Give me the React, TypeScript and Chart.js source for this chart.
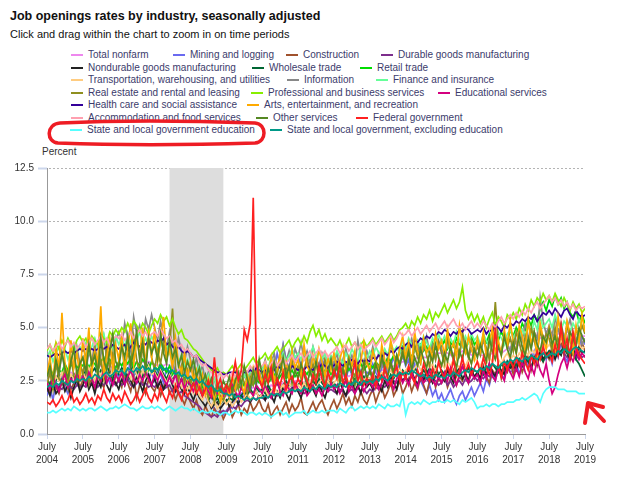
import React, { useEffect, useRef } from 'react';
import { Chart, registerables } from 'chart.js';

Chart.register(...registerables);

// Monthly job openings rates, July 2004 – July 2019 (index 0 = July 2004)
const TICK_MONTH = 'July';
const TICK_YEARS = ['2004', '2005', '2006', '2007', '2008', '2009', '2010', '2011', '2012', '2013', '2014', '2015', '2016', '2017', '2018', '2019'];
const RECESSION_START = 41; // Dec 2007
const RECESSION_END = 59; // Jun 2009

const totalNonfarm = [
  2.6, 2.7, 2.6, 2.7, 2.8, 2.7, 2.8, 2.8, 2.9, 2.8, 2.9, 2.9,
  3.0, 2.9, 3.0, 3.1, 3.0, 3.1, 3.2, 3.1, 3.2, 3.2, 3.1, 3.2,
  3.2, 3.3, 3.2, 3.3, 3.2, 3.3, 3.4, 3.3, 3.4, 3.3, 3.4, 3.3,
  3.3, 3.2, 3.3, 3.2, 3.3, 3.2, 3.1, 3.0, 3.0, 2.9, 2.8, 2.8,
  2.7, 2.6, 2.5, 2.4, 2.3, 2.2, 2.1, 2.0, 1.9, 1.9, 1.8, 1.8,
  1.8, 1.8, 1.9, 1.8, 1.9, 1.9, 2.0, 2.0, 2.1, 2.2, 2.1, 2.1,
  2.1, 2.2, 2.1, 2.3, 2.2, 2.3, 2.3, 2.4, 2.4, 2.5, 2.4, 2.5,
  2.5, 2.5, 2.4, 2.6, 2.5, 2.6, 2.7, 2.6, 2.7, 2.7, 2.6, 2.7,
  2.7, 2.8, 2.7, 2.7, 2.8, 2.7, 2.8, 2.8, 2.9, 2.8, 2.9, 2.9,
  2.9, 2.9, 3.0, 2.9, 3.0, 3.0, 3.1, 3.1, 3.2, 3.3, 3.3, 3.4,
  3.4, 3.5, 3.4, 3.5, 3.6, 3.5, 3.6, 3.6, 3.7, 3.7, 3.8, 3.8,
  3.8, 3.9, 3.8, 3.7, 3.8, 3.7, 3.8, 3.9, 3.8, 3.8, 3.7, 3.8,
  3.8, 3.7, 3.7, 3.8, 3.7, 3.8, 3.8, 3.9, 3.8, 3.9, 4.0, 4.1,
  4.0, 4.1, 4.2, 4.1, 4.2, 4.2, 4.3, 4.4, 4.4, 4.5, 4.6, 4.6,
  4.6, 4.7, 4.6, 4.7, 4.8, 4.7, 4.8, 4.7, 4.7, 4.7, 4.6, 4.6,
  4.6,
];

const miningLogging = [
  1.8, 2.2, 1.6, 2.4, 2.0, 2.6, 2.2, 1.9, 2.5, 2.8, 2.3, 2.6,
  2.9, 2.4, 3.1, 2.7, 2.5, 3.0, 2.6, 3.3, 2.8, 2.4, 3.2, 2.9,
  2.7, 3.1, 2.5, 2.9, 3.4, 2.7, 3.0, 2.3, 2.8, 3.3, 2.6, 2.9,
  2.5, 3.0, 2.8, 2.4, 3.1, 2.7, 3.3, 2.9, 2.6, 3.2, 3.0, 2.7,
  3.1, 2.8, 2.5, 2.3, 2.0, 1.8, 1.5, 1.3, 1.2, 1.0, 1.1, 0.9,
  1.1, 1.3, 1.2, 1.6, 1.5, 1.9, 1.7, 2.2, 2.0, 2.6, 2.3, 2.9,
  2.5, 3.1, 2.8, 3.6, 3.0, 3.8, 3.2, 4.2, 3.5, 3.0, 4.0, 3.4,
  3.7, 3.2, 3.9, 3.4, 3.1, 3.6, 3.3, 3.0, 3.5, 3.2, 2.8, 3.4,
  3.1, 2.7, 3.3, 2.9, 2.6, 3.1, 2.8, 3.2, 2.7, 3.0, 2.5, 2.9,
  2.8, 3.3, 2.9, 2.6, 3.1, 3.4, 2.9, 3.2, 3.6, 3.0, 3.3, 3.7,
  3.2, 3.5, 2.9, 3.3, 2.8, 2.5, 2.2, 1.9, 2.3, 1.8, 2.1, 1.6,
  1.9, 1.5, 1.8, 2.1, 1.7, 1.4, 1.8, 2.0, 1.6, 1.9, 2.2, 1.8,
  2.1, 2.4, 2.0, 2.6, 2.3, 2.9, 2.5, 3.1, 2.8, 2.6, 3.2, 2.9,
  3.0, 3.4, 2.8, 3.2, 3.6, 3.1, 3.5, 3.9, 3.3, 3.7, 4.1, 3.5,
  3.8, 3.3, 4.0, 3.6, 4.3, 3.7, 3.4, 3.9, 4.4, 3.6, 4.1, 4.6,
  4.2,
];

const construction = [
  2.4, 2.0, 2.6, 2.2, 1.9, 2.5, 2.3, 2.8, 2.1, 2.4, 2.7, 2.2,
  2.5, 2.9, 2.3, 2.6, 2.1, 2.8, 2.4, 2.2, 2.7, 3.0, 2.5, 2.3,
  2.6, 2.2, 2.9, 2.4, 2.0, 2.7, 1.7, 2.3, 2.5, 1.9, 2.6, 2.2,
  2.0, 2.4, 1.8, 2.2, 2.5, 1.9, 2.1, 1.6, 2.0, 1.7, 1.4, 1.8,
  1.5, 1.2, 1.6, 1.1, 0.9, 1.3, 1.0, 0.8, 1.2, 0.9, 1.1, 0.7,
  1.0, 1.3, 0.8, 1.1, 1.4, 0.9, 1.2, 1.0, 1.5, 1.1, 1.3, 1.6,
  1.2, 1.0, 1.4, 0.8, 1.1, 1.3, 0.9, 1.2, 1.5, 1.0, 1.4, 1.1,
  1.3, 1.7, 1.0, 0.9, 1.2, 1.5, 1.1, 1.4, 1.6, 1.2, 0.9, 1.3,
  1.6, 1.2, 1.5, 1.9, 1.4, 1.7, 1.3, 1.8, 1.5, 2.0, 1.6, 1.4,
  1.8, 2.1, 1.5, 1.9, 2.2, 1.7, 2.0, 2.4, 1.8, 2.1, 2.5, 1.9,
  2.2, 2.6, 2.0, 2.4, 2.1, 2.7, 2.3, 1.9, 2.5, 2.8, 2.2, 2.6,
  2.4, 2.8, 2.2, 2.6, 3.0, 2.3, 2.7, 2.5, 2.9, 2.4, 3.1, 2.6,
  2.9, 2.5, 3.2, 2.7, 2.4, 3.0, 2.8, 3.3, 2.6, 3.1, 2.9, 3.4,
  2.8, 3.2, 3.5, 2.9, 3.3, 3.7, 3.0, 3.6, 3.2, 3.9, 3.4, 3.8,
  3.5, 4.1, 3.6, 3.9, 4.4, 3.7, 4.2, 3.8, 4.6, 4.0, 3.7, 4.3,
  3.9,
];

const durableGoods = [
  2.0, 2.2, 2.1, 2.3, 2.2, 2.1, 2.3, 2.4, 2.2, 2.1, 2.3, 2.2,
  2.3, 2.2, 2.4, 2.3, 2.5, 2.2, 2.4, 2.3, 2.5, 2.6, 2.4, 2.3,
  2.5, 2.3, 2.4, 2.6, 2.3, 2.2, 2.4, 2.5, 2.3, 2.4, 2.2, 2.3,
  2.2, 2.4, 2.3, 2.1, 2.2, 2.3, 2.0, 2.1, 1.9, 2.0, 1.8, 1.7,
  1.6, 1.5, 1.4, 1.3, 1.1, 1.0, 0.9, 0.8, 0.9, 0.8, 1.0, 1.1,
  1.0, 1.2, 1.3, 1.2, 1.4, 1.3, 1.5, 1.6, 1.5, 1.7, 1.6, 1.8,
  1.7, 1.6, 1.8, 1.7, 1.9, 1.8, 2.0, 1.9, 2.1, 2.0, 2.2, 2.1,
  2.0, 2.1, 1.9, 2.0, 2.2, 2.1, 2.0, 2.2, 2.1, 2.3, 2.0, 2.1,
  2.0, 1.9, 2.1, 2.0, 1.8, 2.0, 2.1, 1.9, 2.2, 2.0, 2.1, 1.9,
  2.1, 2.0, 2.2, 2.1, 2.3, 2.2, 2.4, 2.3, 2.5, 2.4, 2.6, 2.5,
  2.6, 2.5, 2.7, 2.6, 2.8, 2.5, 2.7, 2.6, 2.4, 2.6, 2.5, 2.3,
  2.4, 2.6, 2.3, 2.5, 2.2, 2.4, 2.5, 2.3, 2.6, 2.4, 2.5, 2.7,
  2.5, 2.7, 2.6, 2.8, 2.7, 2.9, 2.8, 3.0, 2.9, 3.1, 3.0, 3.2,
  3.1, 3.3, 3.2, 3.4, 3.3, 3.5, 3.6, 3.4, 3.7, 3.6, 3.8, 3.7,
  3.9, 3.8, 4.0, 3.7, 3.9, 3.8, 3.6, 3.9, 3.7, 3.5, 3.8, 3.6,
  3.7,
];

const nondurableGoods = [
  2.2, 1.8, 2.4, 1.9, 2.1, 2.5, 2.0, 2.3, 1.7, 2.2, 2.6, 2.0,
  2.3, 2.7, 2.1, 2.4, 1.9, 2.5, 2.2, 2.8, 2.3, 2.0, 2.6, 2.4,
  2.1, 2.6, 2.3, 2.9, 2.5, 2.2, 2.7, 2.4, 2.0, 2.5, 2.8, 2.3,
  2.6, 2.2, 2.5, 2.1, 2.4, 2.7, 2.3, 2.0, 2.4, 2.1, 1.9, 2.2,
  1.9, 1.6, 2.0, 1.7, 1.5, 1.3, 1.6, 1.2, 1.4, 1.5, 1.2, 1.4,
  1.6, 1.3, 1.5, 1.7, 1.4, 1.8, 1.6, 1.9, 1.5, 1.8, 2.0, 1.7,
  1.9, 1.6, 2.1, 1.8, 1.5, 2.0, 1.7, 2.2, 1.9, 1.6, 2.1, 2.3,
  2.0, 1.7, 2.2, 1.9, 2.4, 2.1, 1.8, 2.3, 2.0, 1.7, 2.2, 2.5,
  2.2, 1.9, 2.4, 2.1, 1.8, 2.3, 2.6, 2.0, 2.3, 1.9, 2.5, 2.2,
  2.4, 2.1, 2.6, 2.3, 2.0, 2.5, 2.2, 2.7, 2.4, 2.1, 2.8, 2.5,
  2.7, 2.4, 2.9, 2.6, 2.3, 2.8, 2.5, 3.0, 2.7, 2.4, 2.9, 2.6,
  2.8, 2.5, 3.0, 2.7, 2.4, 2.9, 3.1, 2.6, 2.8, 2.5, 3.0, 2.7,
  2.9, 2.6, 3.1, 2.8, 3.3, 2.9, 2.7, 3.2, 3.0, 2.8, 3.4, 3.1,
  3.3, 3.0, 3.5, 3.2, 3.7, 3.4, 3.1, 3.6, 3.3, 3.9, 3.5, 3.8,
  3.6, 4.0, 3.5, 3.9, 3.7, 4.2, 3.8, 3.5, 4.0, 3.7, 4.1, 3.8,
  3.9,
];

const wholesaleTrade = [
  2.6, 2.3, 2.8, 2.5, 2.9, 2.4, 2.7, 3.0, 2.6, 2.8, 2.5, 2.9,
  2.7, 3.0, 2.6, 2.9, 3.1, 2.7, 3.0, 2.8, 3.2, 2.9, 2.6, 3.0,
  2.8, 3.1, 2.9, 2.6, 3.0, 3.2, 2.8, 3.1, 2.7, 3.0, 3.3, 2.9,
  3.0, 2.7, 3.1, 2.8, 2.6, 2.9, 2.5, 2.8, 2.4, 2.6, 2.3, 2.5,
  2.2, 2.4, 2.0, 2.2, 1.8, 1.9, 1.6, 1.8, 1.5, 1.7, 1.4, 1.6,
  1.5, 1.7, 1.6, 1.9, 1.7, 1.8, 2.0, 1.8, 2.1, 1.9, 2.2, 2.0,
  2.1, 1.9, 2.3, 2.0, 2.2, 2.4, 2.1, 2.3, 2.5, 2.2, 2.4, 2.1,
  2.3, 2.5, 2.2, 2.4, 2.1, 2.5, 2.3, 2.6, 2.4, 2.2, 2.5, 2.3,
  2.4, 2.2, 2.6, 2.3, 2.5, 2.2, 2.4, 2.6, 2.3, 2.5, 2.7, 2.4,
  2.6, 2.4, 2.7, 2.5, 2.8, 2.6, 2.5, 2.8, 2.6, 2.9, 2.7, 3.0,
  2.8, 3.0, 2.7, 3.1, 2.9, 2.7, 3.0, 2.8, 3.1, 2.9, 3.2, 2.8,
  3.0, 2.8, 3.1, 2.9, 2.7, 3.0, 2.8, 3.2, 2.9, 3.1, 2.8, 3.0,
  2.9, 3.1, 2.8, 3.2, 3.0, 3.3, 3.1, 2.9, 3.3, 3.1, 3.4, 3.2,
  3.4, 3.2, 3.5, 3.3, 3.6, 3.4, 3.7, 3.5, 3.8, 3.6, 3.4, 3.7,
  3.9, 3.6, 4.0, 3.7, 3.9, 4.1, 3.8, 3.6, 3.9, 3.5, 3.3, 3.0,
  2.7,
];

const retailTrade = [
  2.9, 3.1, 2.8, 3.2, 3.0, 2.9, 3.3, 3.0, 3.2, 3.4, 3.1, 3.3,
  3.2, 3.5, 3.1, 3.4, 3.3, 3.0, 3.4, 3.6, 3.2, 3.5, 3.3, 3.1,
  3.4, 3.2, 3.5, 3.3, 3.6, 3.1, 3.4, 3.2, 3.5, 3.3, 3.0, 3.4,
  3.2, 3.0, 3.3, 3.1, 2.9, 3.2, 2.8, 3.0, 2.7, 2.9, 2.6, 2.8,
  2.5, 2.7, 2.3, 2.5, 2.2, 2.0, 2.3, 1.9, 2.1, 1.8, 2.0, 1.9,
  2.1, 1.9, 2.2, 2.0, 2.3, 2.1, 2.4, 2.2, 2.5, 2.3, 2.6, 2.4,
  2.5, 2.7, 2.4, 2.6, 2.8, 2.5, 2.7, 2.9, 2.6, 2.8, 3.0, 2.7,
  2.9, 2.7, 3.0, 2.8, 3.1, 2.9, 2.7, 3.0, 3.2, 2.9, 3.1, 2.8,
  3.0, 3.2, 2.9, 3.1, 3.3, 3.0, 3.2, 3.4, 3.1, 3.3, 3.0, 3.2,
  3.3, 3.1, 3.4, 3.2, 3.5, 3.3, 3.6, 3.4, 3.7, 3.5, 3.8, 4.1,
  3.7, 3.9, 3.6, 4.0, 3.8, 4.2, 3.9, 4.1, 3.8, 4.3, 4.0, 4.2,
  4.1, 4.4, 4.0, 4.3, 4.1, 4.5, 4.2, 4.4, 4.0, 4.3, 4.6, 4.2,
  4.4, 4.1, 4.5, 4.3, 4.7, 4.2, 4.6, 4.4, 4.8, 4.5, 4.3, 4.9,
  4.6, 5.0, 4.7, 5.2, 4.9, 5.4, 5.1, 5.6, 5.3, 5.9, 6.2, 5.8,
  6.3, 6.0, 6.5, 6.1, 6.4, 5.9, 6.2, 5.7, 5.5, 5.8, 5.3, 5.6,
  5.2,
];

const transportation = [
  2.5, 2.8, 2.3, 2.7, 2.5, 2.9, 2.6, 2.4, 2.8, 2.6, 3.0, 2.7,
  2.9, 2.6, 3.1, 2.8, 2.5, 3.0, 2.7, 3.2, 2.9, 2.6, 3.1, 2.8,
  3.0, 2.7, 3.2, 2.9, 2.6, 3.1, 2.8, 2.5, 3.0, 2.7, 3.2, 2.8,
  2.9, 2.6, 3.0, 2.7, 2.4, 2.8, 2.5, 2.3, 2.6, 2.2, 2.5, 2.1,
  2.3, 1.9, 2.2, 1.8, 1.6, 1.9, 1.5, 1.3, 1.6, 1.2, 1.4, 1.7,
  1.4, 1.6, 1.3, 1.5, 1.8, 1.5, 1.7, 1.9, 1.6, 1.8, 2.0, 1.7,
  1.9, 2.1, 1.8, 2.0, 2.2, 1.9, 2.1, 2.3, 2.0, 2.2, 2.4, 2.1,
  2.3, 2.1, 2.4, 2.2, 2.5, 2.3, 2.1, 2.4, 2.6, 2.3, 2.5, 2.2,
  2.4, 2.6, 2.3, 2.5, 2.7, 2.4, 2.6, 2.3, 2.5, 2.8, 2.5, 2.7,
  2.6, 2.8, 2.5, 2.7, 2.9, 2.6, 2.8, 3.0, 2.7, 2.9, 3.1, 2.8,
  3.0, 3.2, 2.9, 3.1, 3.3, 3.0, 3.2, 3.4, 3.1, 3.3, 3.0, 3.2,
  3.3, 3.1, 3.4, 3.2, 3.5, 3.3, 3.1, 3.4, 3.2, 3.5, 3.3, 3.6,
  3.4, 3.2, 3.5, 3.3, 3.6, 3.4, 3.7, 3.5, 3.3, 3.6, 3.8, 3.5,
  3.7, 3.5, 3.8, 3.6, 3.9, 3.7, 4.0, 3.8, 4.1, 3.9, 4.2, 4.0,
  4.2, 4.0, 4.3, 4.1, 4.4, 4.2, 4.0, 4.3, 4.1, 4.4, 4.2, 4.0,
  4.1,
];

const information = [
  2.6, 3.1, 2.4, 3.4, 2.8, 3.8, 3.0, 2.7, 3.5, 3.2, 4.1, 3.3,
  3.6, 2.9, 3.9, 3.4, 4.3, 3.1, 3.7, 4.6, 3.5, 4.0, 3.3, 4.4,
  4.8, 4.1, 5.2, 4.5, 3.9, 5.5, 4.7, 5.1, 4.3, 5.4, 4.9, 5.6,
  5.0, 4.4, 5.3, 4.6, 4.0, 4.8, 4.2, 3.7, 4.5, 3.9, 3.4, 4.1,
  3.5, 3.0, 3.6, 2.8, 3.2, 2.5, 2.9, 2.2, 2.6, 2.0, 2.4, 1.8,
  2.1, 1.7, 2.3, 2.0, 2.6, 2.2, 2.8, 2.4, 3.0, 2.5, 3.2, 2.7,
  3.0, 3.5, 2.8, 3.3, 3.8, 3.1, 3.6, 4.2, 3.4, 3.9, 3.2, 4.0,
  3.6, 4.3, 3.5, 3.9, 3.3, 4.1, 3.6, 3.2, 3.8, 3.4, 3.0, 3.6,
  3.3, 3.8, 3.1, 3.5, 4.0, 3.4, 3.7, 3.2, 4.4, 3.6, 3.3, 3.9,
  3.5, 4.1, 3.4, 3.8, 3.2, 3.9, 3.6, 4.2, 3.7, 3.4, 4.0, 3.6,
  4.1, 3.7, 4.5, 3.9, 4.3, 3.6, 4.0, 4.6, 3.8, 4.2, 3.5, 4.4,
  4.0, 3.6, 4.3, 3.9, 3.5, 4.2, 3.7, 4.5, 4.1, 3.6, 4.0, 3.7,
  4.2, 3.8, 4.4, 4.0, 3.6, 4.3, 4.7, 4.1, 3.8, 4.5, 4.2, 3.9,
  4.6, 4.2, 4.9, 4.4, 5.2, 4.6, 4.1, 4.8, 4.5, 6.4, 5.3, 4.7,
  5.1, 4.6, 5.5, 4.8, 5.2, 4.5, 4.9, 5.4, 4.7, 4.4, 4.8, 4.2,
  4.5,
];

const financeInsurance = [
  3.6, 3.9, 3.4, 3.8, 4.1, 3.7, 4.0, 3.5, 3.9, 4.2, 3.8, 4.1,
  3.9, 4.3, 3.8, 4.1, 4.5, 4.0, 4.3, 4.7, 4.1, 4.4, 4.0, 4.6,
  4.2, 4.5, 4.1, 4.7, 4.3, 4.0, 4.4, 4.8, 4.2, 4.5, 4.1, 4.6,
  4.3, 4.0, 4.4, 3.9, 4.2, 3.8, 3.5, 3.9, 3.4, 3.7, 3.2, 3.5,
  3.1, 3.4, 2.9, 3.2, 2.7, 2.5, 2.8, 2.3, 2.6, 2.2, 2.4, 2.1,
  2.3, 2.0, 2.4, 2.2, 2.6, 2.3, 2.8, 2.5, 2.9, 3.1, 2.7, 3.2,
  3.0, 3.4, 3.1, 3.6, 3.3, 3.0, 3.5, 3.8, 3.4, 3.7, 4.0, 3.6,
  3.8, 3.5, 3.9, 3.4, 3.7, 4.1, 3.6, 3.9, 3.5, 3.8, 3.3, 3.7,
  3.5, 3.9, 3.6, 3.3, 3.8, 3.5, 4.0, 3.7, 3.4, 4.2, 3.8, 3.5,
  3.9, 3.6, 4.1, 3.8, 3.5, 4.0, 3.7, 4.3, 3.9, 4.1, 3.8, 4.4,
  4.0, 4.5, 4.2, 3.9, 4.4, 4.1, 4.6, 4.3, 4.0, 4.5, 4.2, 4.7,
  4.3, 4.6, 4.1, 4.5, 4.2, 4.8, 4.4, 4.1, 4.6, 4.3, 4.7, 4.4,
  4.6, 4.2, 4.7, 4.4, 4.1, 4.6, 4.3, 4.8, 4.5, 4.2, 4.7, 4.9,
  4.5, 4.8, 4.4, 4.9, 4.6, 5.1, 4.7, 5.3, 4.9, 5.5, 5.0, 5.2,
  5.4, 5.0, 5.6, 5.2, 4.9, 5.3, 5.1, 4.8, 5.2, 4.9, 5.4, 5.0,
  5.1,
];

const realEstate = [
  2.3, 2.9, 2.1, 3.3, 2.6, 2.4, 3.1, 2.2, 3.6, 2.7, 2.5, 3.4,
  2.8, 3.7, 2.4, 3.2, 4.0, 2.9, 3.5, 2.6, 4.2, 3.1, 3.8, 2.7,
  3.4, 4.4, 2.9, 3.9, 3.2, 4.6, 3.5, 2.8, 4.1, 3.3, 4.8, 3.6,
  3.0, 3.9, 3.3, 4.3, 3.5, 4.1, 5.9, 3.1, 2.5, 3.2, 2.4, 3.0,
  2.3, 2.9, 2.1, 2.6, 1.9, 2.4, 1.7, 2.2, 1.5, 2.0, 1.8, 1.6,
  1.9, 2.3, 1.8, 2.6, 2.1, 2.9, 2.4, 1.9, 2.7, 2.3, 3.0, 2.5,
  2.2, 2.9, 2.6, 3.3, 2.4, 2.8, 3.5, 2.7, 3.1, 2.5, 3.4, 2.9,
  3.2, 2.6, 3.0, 3.6, 2.8, 3.3, 2.5, 3.1, 2.7, 3.5, 2.9, 2.4,
  2.9, 3.4, 2.6, 3.1, 2.8, 3.6, 3.0, 2.7, 3.3, 2.5, 3.1, 3.5,
  3.0, 2.7, 3.4, 3.1, 3.8, 2.9, 3.5, 3.2, 2.8, 3.7, 3.3, 4.0,
  3.4, 3.9, 3.1, 4.2, 3.6, 3.3, 4.4, 3.7, 3.2, 4.0, 3.5, 4.3,
  3.8, 3.3, 4.5, 3.9, 3.5, 4.2, 3.7, 4.8, 4.0, 3.6, 4.4, 3.8,
  4.1, 3.7, 4.6, 4.0, 3.5, 4.3, 6.2, 4.2, 3.8, 4.7, 4.1, 4.5,
  3.9, 4.8, 4.3, 3.7, 4.6, 4.0, 5.0, 4.4, 3.8, 4.9, 4.2, 4.7,
  4.5, 3.9, 5.0, 4.3, 4.8, 4.1, 5.2, 4.4, 3.9, 4.9, 4.6, 5.1,
  4.7,
];

const professionalBusiness = [
  3.9, 4.2, 3.8, 4.3, 4.0, 4.4, 4.1, 4.5, 4.2, 4.0, 4.4, 4.6,
  4.3, 4.5, 4.1, 4.6, 4.4, 4.2, 4.7, 4.5, 4.3, 4.8, 4.6, 4.9,
  4.7, 5.0, 4.8, 5.2, 4.9, 5.3, 5.1, 4.8, 5.2, 5.0, 4.7, 5.1,
  5.4, 5.2, 5.6, 5.3, 5.5, 5.1, 5.4, 5.0, 4.7, 4.9, 4.5, 4.4,
  4.2, 4.0, 3.9, 3.7, 3.5, 3.3, 3.2, 3.0, 2.9, 3.1, 2.8, 2.9,
  2.8, 3.0, 3.2, 2.9, 3.1, 3.3, 3.0, 3.2, 3.4, 3.6, 3.3, 3.5,
  3.6, 3.8, 3.5, 3.7, 3.9, 4.1, 3.8, 4.0, 4.2, 4.4, 4.0, 4.3,
  4.5, 4.2, 4.6, 4.3, 4.8, 5.1, 4.6, 4.9, 4.4, 4.7, 4.3, 4.5,
  4.3, 4.1, 4.4, 4.0, 4.2, 4.5, 4.1, 4.3, 4.0, 4.2, 4.4, 4.1,
  4.3, 4.5, 4.2, 4.4, 4.6, 4.3, 4.5, 4.7, 4.4, 4.6, 4.9, 5.0,
  5.2, 4.9, 5.3, 5.1, 5.5, 5.2, 5.6, 5.4, 5.8, 5.3, 5.7, 5.5,
  5.8, 6.1, 5.7, 6.0, 6.3, 5.9, 6.2, 6.9, 5.8, 5.4, 5.7, 5.3,
  5.6, 5.2, 5.5, 5.0, 5.4, 5.7, 5.1, 5.5, 5.3, 5.0, 5.6, 5.4,
  5.7, 5.4, 5.9, 5.6, 6.1, 5.8, 6.3, 6.0, 6.4, 6.2, 6.6, 6.3,
  6.5, 6.2, 6.6, 6.3, 6.0, 6.4, 6.1, 5.8, 6.2, 5.9, 6.1, 5.7,
  5.9,
];

const educationalServices = [
  2.4, 2.1, 2.7, 2.3, 2.0, 2.5, 2.8, 2.2, 2.6, 2.4, 2.9, 2.5,
  2.7, 2.3, 2.9, 2.6, 2.2, 2.8, 2.5, 3.0, 2.4, 2.7, 2.3, 2.8,
  2.5, 2.9, 2.3, 2.7, 3.0, 2.6, 2.4, 2.8, 2.5, 2.9, 2.6, 2.3,
  2.8, 2.5, 2.9, 2.6, 2.3, 2.7, 2.4, 2.8, 2.2, 2.6, 2.1, 2.5,
  2.3, 2.0, 2.5, 2.1, 1.8, 2.3, 2.0, 1.7, 2.1, 1.9, 2.2, 1.8,
  2.1, 1.8, 2.3, 2.0, 1.7, 2.2, 1.9, 2.4, 2.0, 1.8, 2.3, 2.1,
  1.9, 2.3, 2.0, 1.7, 2.2, 2.5, 2.0, 1.8, 2.3, 2.1, 1.9, 2.4,
  2.1, 1.9, 2.2, 1.8, 2.0, 2.3, 1.9, 2.1, 1.8, 2.2, 2.0, 2.4,
  2.1, 2.3, 1.9, 2.2, 2.5, 2.0, 2.3, 1.9, 2.2, 2.4, 2.0, 2.3,
  2.5, 2.2, 2.6, 2.1, 2.4, 2.7, 2.3, 2.5, 2.1, 2.6, 2.8, 2.4,
  2.7, 2.3, 2.9, 2.5, 2.2, 2.8, 2.4, 2.6, 3.0, 2.5, 2.3, 2.7,
  2.4, 2.9, 2.5, 3.1, 2.6, 2.3, 2.8, 3.2, 2.7, 2.4, 2.9, 2.6,
  2.8, 2.4, 3.0, 2.6, 3.3, 2.7, 2.5, 3.1, 2.8, 2.5, 3.2, 2.9,
  2.6, 3.1, 2.7, 3.4, 2.9, 2.6, 3.2, 2.8, 3.5, 3.0, 2.7, 3.3,
  2.5, 1.9, 2.2, 2.8, 3.3, 3.6, 3.1, 3.7, 3.4, 3.9, 3.5, 3.8,
  3.6,
];

const healthCare = [
  3.7, 3.6, 3.7, 3.8, 3.7, 3.8, 3.9, 3.8, 3.9, 3.8, 3.9, 4.0,
  3.9, 4.0, 3.9, 4.0, 3.9, 4.0, 4.1, 4.0, 4.1, 4.0, 4.2, 4.1,
  4.0, 4.1, 4.2, 3.9, 4.1, 4.3, 4.2, 4.1, 4.3, 4.2, 4.4, 4.3,
  4.2, 4.4, 4.3, 4.5, 4.2, 4.3, 4.1, 4.0, 4.1, 3.9, 3.8, 3.9,
  3.8, 3.6, 3.7, 3.5, 3.4, 3.3, 3.2, 3.1, 3.0, 2.9, 2.9, 2.8,
  2.8, 2.9, 2.9, 2.9, 2.8, 2.9, 2.9, 2.9, 3.0, 2.9, 3.1, 3.0,
  2.9, 3.0, 2.9, 3.1, 3.0, 3.2, 3.1, 3.0, 3.1, 3.0, 3.2, 3.1,
  3.0, 3.1, 3.0, 3.2, 3.1, 3.0, 3.2, 3.1, 3.3, 3.2, 3.1, 3.3,
  3.2, 3.4, 3.3, 3.2, 3.4, 3.3, 3.5, 3.4, 3.3, 3.5, 3.4, 3.5,
  3.4, 3.6, 3.5, 3.7, 3.6, 3.8, 3.7, 3.9, 3.8, 4.0, 4.1, 4.0,
  4.2, 4.3, 4.1, 4.4, 4.3, 4.5, 4.4, 4.6, 4.5, 4.7, 4.6, 4.8,
  4.7, 4.9, 4.8, 4.6, 4.8, 4.7, 4.9, 4.8, 5.0, 4.9, 4.7, 4.8,
  4.9, 4.8, 5.0, 4.7, 4.9, 4.8, 5.1, 5.0, 4.8, 5.1, 5.0, 5.2,
  5.1, 5.3, 5.2, 5.4, 5.3, 5.5, 5.4, 5.6, 5.3, 5.5, 5.7, 5.6,
  5.8, 5.6, 5.9, 5.7, 5.5, 5.8, 5.9, 5.6, 5.4, 5.8, 5.6, 5.5,
  5.6,
];

const artsEntertainment = [
  2.8, 3.6, 2.4, 4.1, 3.0, 5.7, 3.3, 2.6, 4.4, 3.1, 3.8, 2.7,
  4.5, 3.2, 5.0, 2.9, 3.9, 3.4, 6.0, 2.8, 3.6, 4.5, 3.0, 4.2,
  3.5, 4.6, 3.0, 4.0, 5.2, 3.3, 4.4, 3.7, 5.0, 3.2, 4.7, 3.6,
  4.9, 3.4, 4.3, 5.5, 3.6, 4.0, 3.1, 4.5, 3.3, 2.9, 3.8, 2.6,
  3.4, 2.5, 3.0, 2.2, 2.8, 1.9, 2.6, 2.1, 1.7, 2.4, 1.5, 2.0,
  2.3, 1.8, 2.7, 2.1, 3.0, 2.4, 1.9, 2.8, 2.2, 3.1, 2.5, 2.9,
  2.4, 3.3, 2.7, 3.6, 2.5, 3.0, 3.8, 2.8, 3.4, 2.6, 3.9, 3.1,
  3.5, 2.8, 4.2, 3.2, 2.9, 3.7, 3.1, 4.0, 3.4, 2.7, 3.6, 3.0,
  3.8, 3.1, 3.5, 4.1, 2.9, 3.6, 3.2, 3.9, 2.8, 3.4, 4.3, 3.3,
  3.0, 3.9, 3.4, 2.8, 4.2, 3.5, 3.1, 4.4, 3.7, 3.2, 4.0, 4.6,
  3.6, 4.3, 3.3, 4.8, 3.9, 3.4, 4.5, 3.8, 4.1, 3.5, 4.7, 4.0,
  4.4, 3.7, 4.9, 3.9, 4.3, 3.6, 5.1, 4.2, 3.8, 4.6, 4.0, 3.5,
  4.5, 3.9, 4.8, 3.6, 4.2, 5.0, 3.8, 4.4, 3.7, 4.9, 4.1, 5.3,
  4.3, 3.8, 5.1, 4.6, 3.9, 5.4, 4.2, 4.8, 3.6, 5.2, 4.5, 4.0,
  5.0, 4.4, 3.9, 5.5, 4.6, 4.1, 5.3, 4.7, 3.8, 5.1, 4.3, 5.6,
  4.8,
];

const accommodationFood = [
  4.0, 4.2, 3.9, 4.1, 4.3, 4.0, 4.2, 4.4, 4.1, 4.3, 4.0, 4.2,
  4.4, 4.1, 4.3, 4.5, 4.2, 4.4, 4.6, 4.3, 4.5, 4.2, 4.4, 4.6,
  4.5, 4.7, 4.4, 4.6, 4.8, 4.5, 4.7, 4.9, 4.6, 4.8, 4.5, 4.7,
  4.8, 4.6, 4.9, 4.7, 4.5, 4.6, 4.3, 4.4, 4.1, 4.2, 3.9, 4.0,
  3.8, 3.6, 3.7, 3.4, 3.2, 3.3, 3.0, 2.9, 2.8, 2.7, 2.9, 2.6,
  2.8, 2.6, 2.9, 2.7, 3.0, 2.8, 3.1, 2.9, 3.2, 3.0, 3.3, 3.1,
  3.2, 3.4, 3.1, 3.3, 3.5, 3.2, 3.4, 3.6, 3.3, 3.5, 3.7, 3.4,
  3.6, 3.8, 3.5, 3.7, 3.9, 3.6, 3.8, 4.0, 3.7, 3.9, 3.6, 3.8,
  3.9, 4.1, 3.8, 4.0, 4.2, 3.9, 4.1, 4.3, 4.0, 4.2, 3.9, 4.1,
  4.2, 4.4, 4.1, 4.3, 4.5, 4.2, 4.4, 4.6, 4.3, 4.5, 4.8, 4.6,
  4.7, 4.9, 4.6, 4.8, 5.0, 4.7, 4.9, 5.1, 4.8, 5.0, 5.2, 4.9,
  5.1, 5.3, 5.0, 5.2, 5.4, 5.1, 5.0, 5.2, 4.9, 5.1, 5.3, 5.0,
  5.2, 5.0, 5.3, 5.1, 4.9, 5.2, 5.0, 5.3, 5.5, 5.2, 5.4, 5.6,
  5.4, 5.7, 5.5, 5.8, 5.6, 5.9, 5.7, 6.0, 6.2, 5.9, 6.1, 6.3,
  6.5, 6.2, 6.4, 6.1, 6.3, 6.0, 6.2, 5.9, 6.1, 5.8, 6.0, 5.9,
  6.0,
];

const otherServices = [
  2.7, 3.2, 2.5, 3.5, 2.9, 3.8, 3.1, 2.6, 3.4, 4.0, 2.8, 3.3,
  3.6, 2.9, 4.2, 3.3, 3.7, 2.8, 4.5, 3.5, 3.0, 3.9, 4.7, 3.4,
  3.1, 4.1, 3.6, 4.6, 3.2, 3.9, 4.8, 3.5, 4.3, 3.0, 4.5, 3.8,
  4.2, 3.5, 4.7, 3.8, 3.3, 4.4, 3.6, 4.0, 3.2, 3.7, 2.9, 3.4,
  3.0, 3.5, 2.7, 3.1, 2.4, 2.8, 2.2, 2.6, 1.9, 2.3, 2.0, 2.5,
  2.2, 2.7, 2.0, 2.5, 2.9, 2.3, 3.2, 2.6, 2.1, 3.0, 2.4, 3.5,
  2.8, 2.3, 3.1, 2.6, 3.4, 2.5, 2.9, 3.6, 2.7, 3.2, 2.4, 3.0,
  2.6, 3.3, 2.8, 2.3, 3.0, 2.5, 3.4, 2.7, 3.1, 2.2, 2.9, 3.5,
  2.7, 3.2, 2.4, 3.0, 2.6, 3.5, 2.9, 2.3, 3.1, 2.8, 3.4, 2.6,
  3.0, 2.5, 3.3, 2.8, 3.6, 3.1, 2.7, 3.4, 2.9, 3.7, 3.2, 3.8,
  3.3, 3.9, 3.0, 3.6, 3.2, 4.0, 3.5, 3.1, 3.8, 3.4, 4.2, 3.6,
  3.2, 3.8, 3.4, 4.1, 3.6, 3.1, 3.9, 3.5, 4.3, 3.7, 3.3, 4.0,
  3.6, 4.2, 3.8, 3.4, 4.5, 3.9, 3.5, 4.1, 3.7, 4.6, 4.0, 3.6,
  4.3, 3.8, 4.7, 4.1, 3.7, 4.5, 4.0, 4.8, 4.2, 3.9, 4.6, 4.3,
  4.9, 4.2, 4.6, 4.0, 5.1, 4.4, 3.9, 4.8, 4.5, 4.1, 5.0, 4.6,
  4.3,
];

const federalGovernment = [
  1.5, 1.4, 1.6, 1.3, 1.5, 1.8, 1.4, 1.6, 2.0, 1.5, 1.7, 1.4,
  1.6, 1.9, 1.5, 1.7, 1.4, 1.8, 1.6, 2.1, 1.7, 1.5, 1.9, 1.6,
  1.8, 1.5, 2.0, 1.7, 1.4, 1.6, 1.9, 1.5, 1.8, 2.1, 1.7, 1.5,
  1.9, 1.6, 2.2, 1.8, 1.5, 2.0, 1.7, 2.3, 1.9, 1.6, 2.1, 1.8,
  2.0, 2.4, 1.9, 2.2, 1.8, 2.1, 2.5, 1.9, 3.6, 2.2, 2.6, 2.0,
  2.3, 2.0, 2.6, 3.4, 2.5, 3.0, 4.9, 4.4, 5.2, 11.1, 3.4, 2.6,
  2.2, 2.8, 2.4, 3.1, 2.0, 2.6, 2.3, 2.9, 2.1, 2.5, 2.7, 2.2,
  2.6, 2.3, 3.0, 2.5, 2.1, 2.8, 2.4, 3.2, 2.6, 2.2, 2.9, 2.5,
  3.0, 2.6, 3.3, 2.4, 2.8, 2.2, 2.7, 3.4, 2.5, 2.9, 2.3, 2.6,
  2.4, 2.8, 2.2, 2.9, 2.5, 3.1, 2.6, 2.3, 2.8, 3.2, 2.5, 2.9,
  2.6, 3.2, 2.7, 2.4, 3.0, 2.6, 3.3, 2.8, 2.5, 3.1, 2.7, 3.4,
  2.9, 2.6, 3.2, 2.8, 3.5, 2.7, 3.0, 3.6, 2.9, 3.3, 2.8, 3.1,
  3.4, 2.9, 3.6, 3.1, 2.8, 3.3, 5.0, 3.2, 2.7, 3.4, 3.0, 3.5,
  3.1, 3.6, 3.2, 3.8, 3.4, 3.0, 3.7, 3.3, 3.9, 3.5, 4.1, 3.6,
  3.8, 3.4, 4.2, 3.7, 5.1, 3.9, 4.5, 3.6, 4.8, 4.1, 3.7, 3.5,
  3.3,
];

const stateLocalEducation = [
  1.0, 1.0, 1.1, 1.0, 1.1, 1.2, 1.1, 1.2, 1.1, 1.3, 1.2, 1.1,
  1.2, 1.1, 1.2, 1.2, 1.1, 1.2, 1.3, 1.2, 1.1, 1.2, 1.2, 1.3,
  1.2, 1.3, 1.4, 1.3, 1.2, 1.2, 1.1, 1.2, 1.3, 1.2, 1.2, 1.3,
  1.2, 1.3, 1.2, 1.1, 1.2, 1.3, 1.2, 1.1, 1.2, 1.3, 1.2, 1.2,
  1.1, 1.2, 1.1, 1.0, 1.1, 1.0, 1.0, 1.1, 1.0, 1.0, 0.9, 1.0,
  1.0, 0.9, 1.0, 1.1, 1.0, 1.1, 1.0, 0.9, 1.0, 1.0, 0.9, 1.0,
  0.9, 1.0, 0.9, 0.8, 0.9, 1.0, 1.1, 0.9, 1.0, 0.8, 0.9, 1.0,
  1.0, 1.0, 1.1, 0.9, 1.0, 1.1, 1.0, 1.0, 1.1, 1.0, 1.1, 1.1,
  1.1, 1.0, 1.2, 1.1, 1.0, 1.2, 1.3, 1.1, 1.2, 1.3, 1.2, 1.3,
  1.2, 1.3, 1.2, 1.4, 1.3, 1.2, 1.4, 1.3, 1.3, 1.4, 1.3, 1.8,
  0.9, 1.4, 1.5, 1.4, 1.5, 1.4, 1.6, 1.5, 1.4, 1.5, 1.5, 1.6,
  1.5, 1.5, 1.6, 1.5, 1.6, 1.5, 1.4, 1.6, 1.5, 1.6, 1.7, 1.5,
  1.2, 1.3, 1.3, 1.4, 1.3, 1.4, 1.4, 1.3, 1.4, 1.4, 1.5, 1.5,
  1.5, 1.6, 1.6, 1.7, 1.6, 1.7, 1.8, 1.9, 1.8, 1.5, 1.9, 2.1,
  2.2, 2.2, 2.2, 2.1, 2.1, 2.1, 2.0, 2.0, 2.0, 2.0, 1.9, 1.9,
  1.9,
];

const stateLocalExEducation = [
  2.2, 2.3, 2.2, 2.4, 2.3, 2.5, 2.4, 2.3, 2.5, 2.4, 2.6, 2.5,
  2.6, 2.5, 2.7, 2.6, 2.8, 2.7, 2.6, 2.8, 2.9, 2.7, 2.8, 3.0,
  2.9, 3.0, 2.8, 3.1, 3.0, 2.9, 3.1, 3.0, 3.2, 3.0, 3.1, 2.9,
  3.1, 3.0, 3.2, 3.0, 3.1, 2.9, 3.0, 2.8, 2.9, 2.7, 2.8, 2.6,
  2.7, 2.5, 2.6, 2.4, 2.5, 2.3, 2.2, 2.3, 2.1, 2.0, 2.1, 1.9,
  1.9, 1.8, 1.9, 1.7, 1.8, 1.7, 1.6, 1.7, 1.6, 1.7, 1.6, 1.7,
  1.7, 1.8, 1.7, 1.9, 1.8, 1.9, 1.8, 2.0, 1.9, 2.0, 2.1, 2.0,
  2.1, 2.0, 2.2, 2.1, 2.0, 2.2, 2.1, 2.3, 2.2, 2.1, 2.3, 2.2,
  2.3, 2.2, 2.4, 2.3, 2.2, 2.4, 2.3, 2.5, 2.4, 2.3, 2.5, 2.4,
  2.5, 2.4, 2.6, 2.5, 2.7, 2.6, 2.5, 2.7, 2.8, 2.7, 2.9, 2.8,
  2.9, 2.8, 3.0, 2.9, 2.8, 2.7, 2.8, 2.6, 2.7, 2.6, 2.8, 2.7,
  2.7, 2.6, 2.8, 2.7, 2.9, 2.8, 2.7, 2.9, 3.0, 2.9, 3.1, 3.0,
  2.9, 3.1, 3.0, 3.2, 3.1, 3.3, 3.2, 3.1, 3.3, 3.4, 3.3, 3.5,
  3.4, 3.6, 3.5, 3.4, 3.6, 3.5, 3.7, 3.6, 3.5, 3.7, 3.8, 3.6,
  3.7, 3.8, 3.7, 3.9, 3.8, 4.0, 3.9, 3.8, 4.0, 4.1, 4.0, 3.9,
  3.8,
];

const SERIES_NAMES = [
  'Total nonfarm', 'Mining and logging', 'Construction', 'Durable goods manufacturing',
  'Nondurable goods manufacturing', 'Wholesale trade', 'Retail trade',
  'Transportation, warehousing, and utilities', 'Information', 'Finance and insurance',
  'Real estate and rental and leasing', 'Professional and business services', 'Educational services',
  'Health care and social assistance', 'Arts, entertainment, and recreation',
  'Accommodation and food services', 'Other services', 'Federal government',
  'State and local government education', 'State and local government, excluding education',
];
const SERIES_VALUES = [
  totalNonfarm, miningLogging, construction, durableGoods, nondurableGoods, wholesaleTrade,
  retailTrade, transportation, information, financeInsurance, realEstate, professionalBusiness,
  educationalServices, healthCare, artsEntertainment, accommodationFood, otherServices,
  federalGovernment, stateLocalEducation, stateLocalExEducation,
];
const SERIES_COLORS = [
  '#ee88ee', '#6a6af0', '#a0522d', '#7d2e8c', '#222222', '#006633', '#00dd00',
  '#ffcc80', '#888888', '#66ff99', '#8f8f1f', '#88ee00', '#d4007f', '#330099',
  '#ffaa00', '#ffa0b0', '#558822', '#ff2020', '#55ffff', '#009988',
];

// legend layout (rows of series indices, left x of each item)
const LEGEND_ROWS = [[0, 1, 2, 3], [4, 5, 6], [7, 8, 9], [10, 11, 12], [13, 14], [15, 16, 17], [18, 19]];
const LEGEND_X = [[71, 173, 286, 381], [71, 252, 360], [71, 287, 376], [71, 251, 438], [71, 247], [71, 256, 356], [70, 270]];

const FONT = '"Liberation Sans", Arial, sans-serif';

// dotted horizontal grid at each y tick, then the recession band over it
const backgroundPlugin = {
  id: 'background',
  beforeDatasetsDraw(chart: any) {
    const { ctx, chartArea, scales } = chart;
    ctx.save();
    ctx.fillStyle = '#b4b4b4';
    const ticks = scales.y.getTicks ? scales.y.getTicks() : scales.y.ticks;
    for (const t of ticks) {
      if (t.value === 0) continue;
      const y = Math.round(scales.y.getPixelForValue(t.value));
      for (let x = Math.ceil(chartArea.left) + 2; x < chartArea.right; x += 4) {
        ctx.fillRect(x, y, 2, 1);
      }
    }
    const x1 = scales.x.getPixelForValue(RECESSION_START);
    const x2 = scales.x.getPixelForValue(RECESSION_END);
    ctx.fillStyle = '#dddddd';
    ctx.fillRect(x1, chartArea.top, x2 - x1, chartArea.bottom - chartArea.top);
    ctx.restore();
  },
};

function LineChart() {
  const ref = useRef<HTMLCanvasElement | null>(null);
  useEffect(() => {
    if (!ref.current) return;
    const n = SERIES_VALUES.length;
    const chart = new Chart(ref.current, {
      type: 'line',
      data: {
        datasets: SERIES_VALUES.map((vals, i) => ({
          label: SERIES_NAMES[i],
          data: vals.map((v, j) => ({ x: j, y: v })),
          borderColor: SERIES_COLORS[i],
          backgroundColor: SERIES_COLORS[i],
          borderWidth: 1.7,
          pointRadius: 0,
          tension: 0,
          fill: false,
          order: n - i,
        })),
      },
      options: {
        animation: false,
        responsive: false,
        maintainAspectRatio: false,
        devicePixelRatio: 1,
        layout: { padding: { top: 28, right: 42, bottom: 0, left: 0 } },
        plugins: { legend: { display: false }, tooltip: { enabled: false }, title: { display: false } },
        scales: {
          x: {
            type: 'linear',
            min: 0,
            max: (TICK_YEARS.length - 1) * 12,
            ticks: {
              stepSize: 12,
              autoSkip: false,
              maxRotation: 0,
              padding: 2,
              color: '#333333',
              font: { family: FONT, size: 10, lineHeight: 1.3 },
              callback: (v: any) => (v % 12 === 0 ? [TICK_MONTH, TICK_YEARS[v / 12]] : ''),
            },
            grid: { drawOnChartArea: false, drawTicks: true, tickLength: 5, tickColor: '#ccd6eb', tickWidth: 1 },
            border: { color: '#999999', width: 1 },
            afterFit: (s: any) => { s.height = 52; },
          },
          y: {
            min: 0,
            max: 12.5,
            ticks: {
              stepSize: 2.5,
              padding: 4,
              color: '#333333',
              font: { family: FONT, size: 10 },
              callback: (v: any) => Number(v).toFixed(1),
            },
            grid: { drawOnChartArea: false, drawTicks: true, tickColor: '#ccd6eb', tickLength: 9, tickWidth: 2 },
            border: { color: '#999999', width: 1 },
            afterFit: (s: any) => { s.width = 47; },
          },
        },
      },
      plugins: [backgroundPlugin],
    } as any);
    return () => chart.destroy();
  }, []);
  return <canvas ref={ref} width={627} height={346} style={{ position: 'absolute', left: 0, top: 140, width: 627, height: 346 }} />;
}

export default function App() {
  return (
    <div style={{ position: 'absolute', left: 0, top: 0, width: 627, height: 486, background: '#fff', fontFamily: FONT, overflow: 'hidden' }}>
      <div style={{ position: 'absolute', left: 10, top: 9, fontSize: 12.5, fontWeight: 'bold', color: '#111', lineHeight: '15px', whiteSpace: 'nowrap' }}>
        Job openings rates by industry, seasonally adjusted
      </div>
      <div style={{ position: 'absolute', left: 10, top: 27, fontSize: 11, color: '#111', lineHeight: '14px', whiteSpace: 'nowrap' }}>
        Click and drag within the chart to zoom in on time periods
      </div>
      {LEGEND_ROWS.map((row, r) =>
        row.map((si, k) => (
          <div key={si} style={{ position: 'absolute', left: LEGEND_X[r][k], top: 49 + r * 12.5, height: 12.5, lineHeight: '12.5px', whiteSpace: 'nowrap', fontSize: 10, color: '#3b3b6b' }}>
            <span style={{ display: 'inline-block', width: 12, height: 2, background: SERIES_COLORS[si], verticalAlign: 'middle', marginRight: 5 }} />
            {SERIES_NAMES[si]}
          </div>
        ))
      )}
      <div style={{ position: 'absolute', left: 42, top: 146, fontSize: 10, color: '#333', lineHeight: '12px' }}>Percent</div>
      <LineChart />
      <svg width={627} height={486} style={{ position: 'absolute', left: 0, top: 0, pointerEvents: 'none' }}>
        <path d="M60,123 C120,120 200,121 255,123 C267,124 267,142 255,143 C190,145 110,145 58,143 C46,142 46,124 60,123 Z" fill="none" stroke="#ee1c24" strokeWidth={3.5} strokeLinecap="round" />
        <path d="M603,407 L588,403 L585,423 M588,404 L604,421" fill="none" stroke="#ee1c24" strokeWidth={4} strokeLinecap="round" strokeLinejoin="round" />
      </svg>
    </div>
  );
}
